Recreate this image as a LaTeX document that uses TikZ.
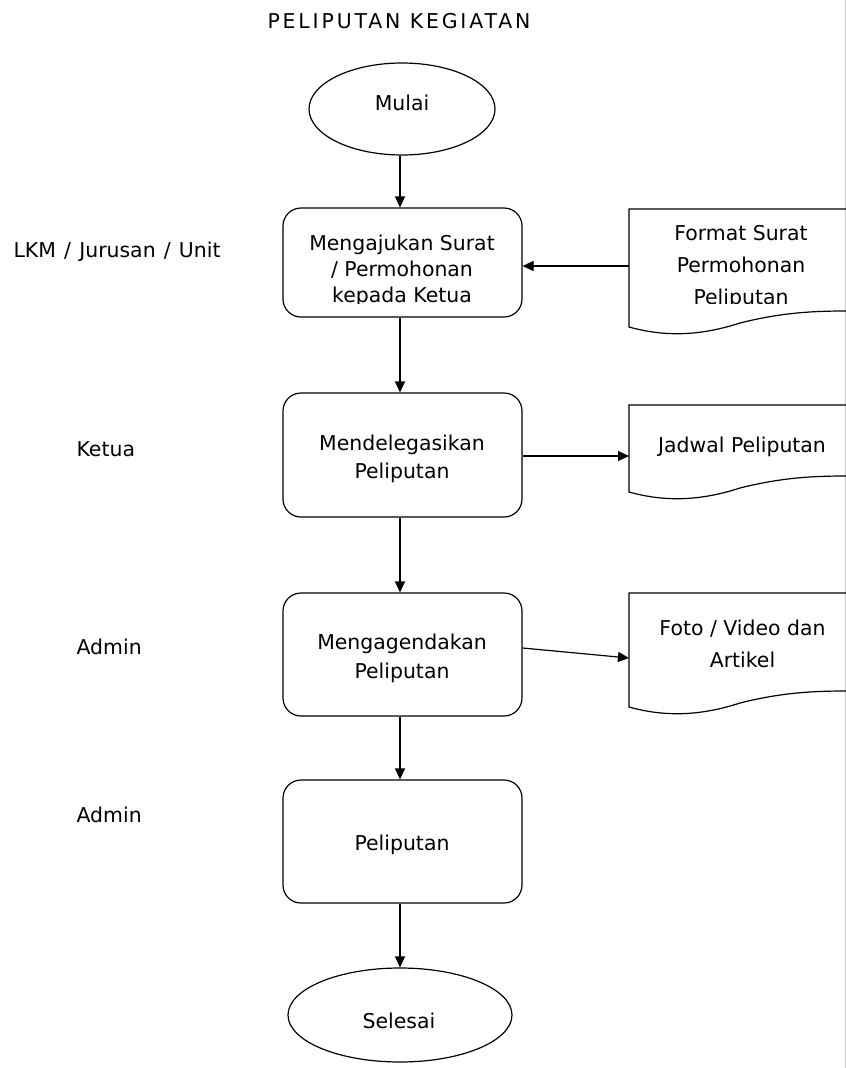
\documentclass[tikz,border=0pt]{standalone}
\usepackage{fontspec}
\setmainfont{DejaVu Sans}
\usetikzlibrary{arrows.meta,shapes.geometric}
\begin{document}
\begin{tikzpicture}[x=1bp,y=-1bp,
  line width=1.2bp,
  txt/.style={font=\fontsize{20.5}{26}\selectfont, inner sep=0, align=center},
  proc/.style={draw, rounded corners=18bp, minimum width=239bp, inner sep=0},
  term/.style={draw, ellipse, inner sep=0},
  arr/.style={-{Triangle[length=11bp,width=10bp]}},
  side/.style={txt, anchor=base west},
  outline/.style={draw, line width=1.2bp}
]
\useasboundingbox (0,0) rectangle (846,1068);
\fill[white] (0,0) rectangle (846,1068);
\draw[black!22, line width=1bp] (845.5,0) -- (845.5,1068);

% title
\node[txt, anchor=base] (title) at (399,28) {\addfontfeature{LetterSpace=14}PELIPUTAN KEGIATAN};

% side labels
\node[side] (l1) at (13,257) {\spaceskip=8.2bp\relax LKM / Jurusan / Unit};
\node[side] (l2) at (76,456) {Ketua};
\node[side] (l3) at (76,654) {Admin};
\node[side] (l4) at (76,822) {Admin};

% shapes
\node[term, minimum width=186bp, minimum height=92bp] (start) at (402,109) {};
\node[proc, minimum height=109bp] (b1) at (402.5,262.5) {};
\node[proc, minimum height=124bp] (b2) at (402.5,455) {};
\node[proc, minimum height=123bp] (b3) at (402.5,654.5) {};
\node[proc, minimum height=123bp] (b4) at (402.5,841.5) {};
\node[term, minimum width=224bp, minimum height=94bp] (end) at (400,1015) {};

% documents
\draw[outline] (846,209) -- (629,209) -- (629,327)
  .. controls (665,337) and (700,336) .. (740,323)
  .. controls (780,313) and (810,311) .. (846,311);
\draw[outline] (846,405) -- (629,405) -- (629,492)
  .. controls (665,502) and (700,501) .. (740,488)
  .. controls (780,478) and (810,476) .. (846,476);
\draw[outline] (846,593) -- (629,593) -- (629,707)
  .. controls (665,717) and (700,716) .. (740,703)
  .. controls (780,693) and (810,691) .. (846,691);

% texts
\node[txt, anchor=base] (startt) at (402,110) {Mulai};
\begin{scope}
  \clip (270,200) rectangle (846,303);
  \node[txt, anchor=north, font=\fontsize{20.5}{26}\selectfont] (b1t) at (402,234.4) {Mengajukan Surat\\/ Permohonan\\kepada Ketua};
  \node[txt, anchor=north, font=\fontsize{20.5}{32}\selectfont] (d1) at (741,224.8) {Format Surat\\Permohonan\\Peliputan};
\end{scope}
\node[txt, anchor=north, font=\fontsize{20.5}{28}\selectfont] (b2t) at (402,434.4) {Mendelegasikan\\Peliputan};
\node[txt, anchor=base] (d2) at (742,452) {Jadwal Peliputan};
\node[txt, anchor=north, font=\fontsize{20.5}{29}\selectfont] (b3t) at (402,633.4) {Mengagendakan\\Peliputan};
\node[txt, anchor=north, font=\fontsize{20.5}{32}\selectfont] (d3) at (742.5,619.4) {Foto / Video dan\\Artikel};
\node[txt, anchor=base] (b4t) at (402,850) {Peliputan};
\node[txt, anchor=base] (endt) at (399,1028) {Selesai};

% connector ends
\coordinate (ax) at (400,0);
\coordinate (d1in) at (629,266);
\coordinate (d2in) at (629,456);
\coordinate (d3in) at (629,658);

% connectors
\draw[arr] (start.south -| ax) -- (b1.north -| ax);
\draw[arr] (b1.south -| ax) -- (b2.north -| ax);
\draw[arr] (b2.south -| ax) -- (b3.north -| ax);
\draw[arr] (b3.south -| ax) -- (b4.north -| ax);
\draw[arr] (b4.south -| ax) -- (end.north -| ax);
\draw[arr] (d1in) -- (b1.east |- d1in);
\draw[arr] (b2.east |- d2in) -- (d2in);
\draw[arr] ([yshift=6.5bp]b3.east) -- (d3in);
\end{tikzpicture}
\end{document}
